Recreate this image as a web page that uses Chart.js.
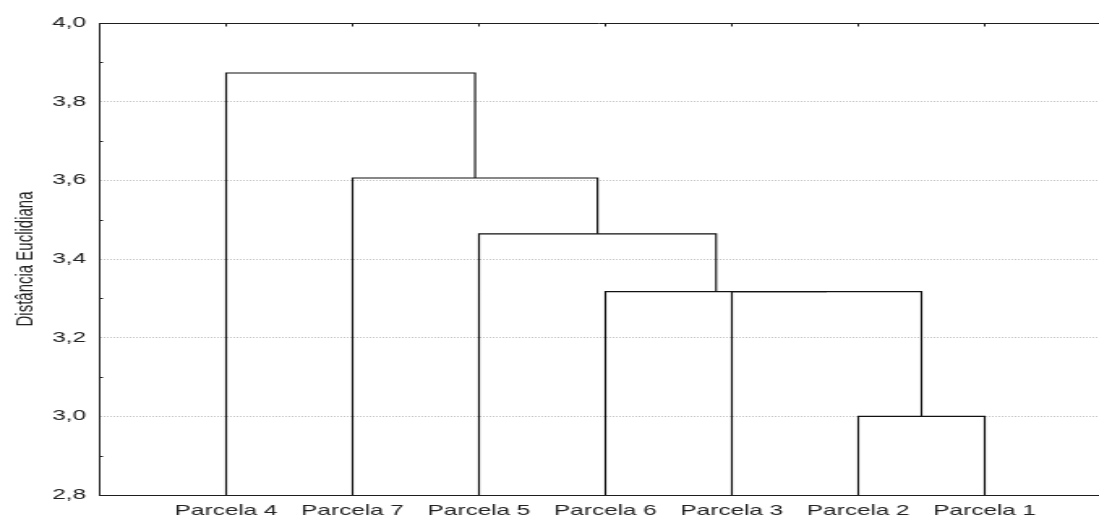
<!DOCTYPE html>
<html>
<head>
<meta charset="utf-8">
<script src="https://cdn.jsdelivr.net/npm/chart.js@4.4.1/dist/chart.umd.min.js"></script>
<style>
  html, body { margin: 0; padding: 0; background: #fff; overflow: hidden; }
  /* the original picture is stretched sideways, so draw narrow and stretch */
  #dendro { display: block; transform: scaleX(1.6209); transform-origin: 0 0; }
</style>
</head>
<body>
<canvas id="dendro" width="678" height="517"></canvas>
<script>
// leaves in the order they sit on the x axis
const leaves = ['Parcela 4', 'Parcela 7', 'Parcela 5', 'Parcela 6', 'Parcela 3', 'Parcela 2', 'Parcela 1'];
const leafX = [1, 2, 3, 4, 5, 6, 7];

// merges: node ids 0-6 are leaves, merge k becomes node 7+k
const mergeA = [5, 4, 3, 2, 1, 0];
const mergeB = [6, 7, 8, 9, 10, 11];
const mergeHeight = [3.0, 3.317, 3.317, 3.464, 3.606, 3.873];

const yTickValues = [2.8, 3.0, 3.2, 3.4, 3.6, 3.8, 4.0];
const yTickLabels = ['2,8', '3,0', '3,2', '3,4', '3,6', '3,8', '4,0'];

const yMin = 2.8, yMax = 4.0;
const xMin = -0.0064, xMax = 7.9038;

// node positions in data units
const nodeX = leafX.slice();
const nodeY = leaves.map(() => yMin);
mergeHeight.forEach((h, k) => {
  nodeX.push((nodeX[mergeA[k]] + nodeX[mergeB[k]]) / 2);
  nodeY.push(h);
});

const datasets = mergeHeight.map((h, k) => {
  const a = mergeA[k], b = mergeB[k];
  return {
    data: [
      { x: nodeX[a], y: nodeY[a] },
      { x: nodeX[a], y: h },
      { x: nodeX[b], y: h },
      { x: nodeX[b], y: nodeY[b] }
    ],
    showLine: true,
    borderColor: '#111',
    borderWidth: 1.15,
    pointRadius: 0,
    tension: 0
  };
});

const fontFamily = "'Liberation Sans', Arial, sans-serif";

// top frame line plus the small inward tick marks
const frameTicks = {
  id: 'frameTicks',
  afterDraw(chart) {
    const { ctx, chartArea } = chart;
    const x = chart.scales.x, y = chart.scales.y;
    const top = Math.round(chartArea.top) + 0.5;
    const left = chartArea.left;
    ctx.save();
    ctx.strokeStyle = '#1e1e1e';
    ctx.lineWidth = 1;
    ctx.beginPath();
    ctx.moveTo(left, top);
    ctx.lineTo(chartArea.right, top);
    leafX.forEach(v => {
      const px = x.getPixelForValue(v);
      ctx.moveTo(px, top);
      ctx.lineTo(px, top + 3);
    });
    for (let i = 0; i < yTickValues.length - 1; i++) {
      const py = Math.round(y.getPixelForValue((yTickValues[i] + yTickValues[i + 1]) / 2)) + 0.5;
      ctx.moveTo(left, py);
      ctx.lineTo(left + 2.5, py);
    }
    ctx.stroke();
    ctx.restore();
  }
};

const config = {
  type: 'scatter',
  data: { datasets: datasets },
  options: {
    responsive: false,
    animation: false,
    layout: { padding: { top: 23, right: 0, bottom: 0, left: 0 } },
    plugins: { legend: { display: false }, tooltip: { enabled: false } },
    scales: {
      x: {
        type: 'linear',
        min: xMin,
        max: xMax,
        afterBuildTicks: scale => { scale.ticks = leafX.map(v => ({ value: v })); },
        afterFit: scale => { scale.height = 22; },
        grid: { display: false, drawTicks: false },
        border: { display: true, color: '#1e1e1e', width: 1 },
        ticks: {
          autoSkip: false,
          maxRotation: 0,
          padding: 7,
          color: '#222',
          font: { family: fontFamily, size: 15 },
          callback: (v, i) => leaves[i]
        }
      },
      y: {
        type: 'linear',
        min: yMin,
        max: yMax,
        afterBuildTicks: scale => { scale.ticks = yTickValues.map(v => ({ value: v })); },
        afterFit: scale => { scale.width = 61; },
        grid: {
          drawTicks: false,
          lineWidth: 1,
          color: c => (c.tick && (c.tick.value === yMin || c.tick.value === yMax)) ? 'rgba(0,0,0,0)' : '#c4c4c4'
        },
        border: { display: true, color: '#1e1e1e', width: 1, dash: [1, 1] },
        ticks: {
          padding: 8,
          color: '#222',
          font: { family: fontFamily, size: 15 },
          callback: (v, i) => yTickLabels[i]
        },
        title: {
          display: true,
          text: 'Distância Euclidiana',
          color: '#222',
          font: { family: fontFamily, size: 15 },
          padding: { top: 7, bottom: 0 }
        }
      }
    }
  },
  plugins: [frameTicks]
};

const myChart = new Chart(document.getElementById('dendro'), config);
</script>
</body>
</html>
